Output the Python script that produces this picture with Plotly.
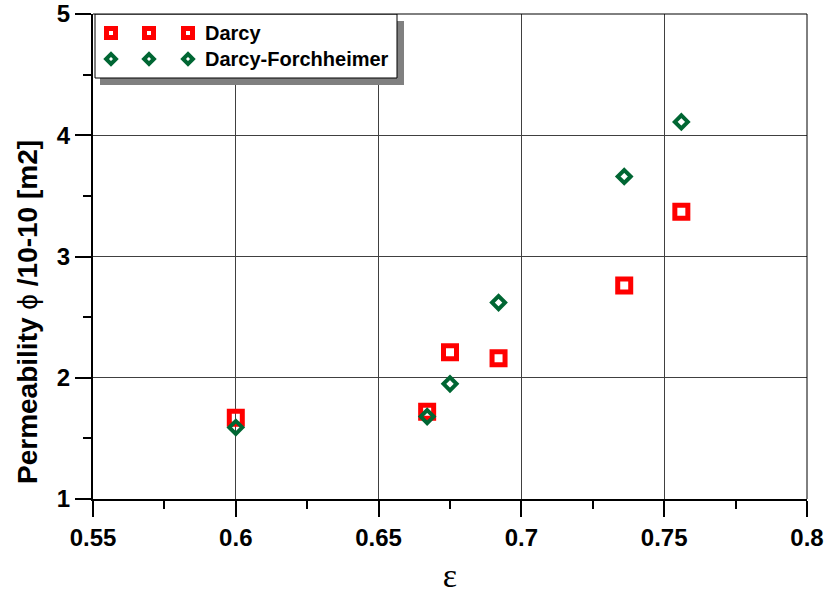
import plotly.graph_objects as go

# Porosity (epsilon) and permeability (units of 1e-10 m^2)
eps_darcy = [0.600, 0.667, 0.675, 0.692, 0.736, 0.756]
perm_darcy = [1.67, 1.72, 2.21, 2.16, 2.76, 3.37]

eps_df = [0.600, 0.667, 0.675, 0.692, 0.736, 0.756]
perm_df = [1.59, 1.68, 1.95, 2.62, 3.66, 4.11]

series_names = ["Darcy", "Darcy-Forchheimer"]
x_ticks = [0.55, 0.6, 0.65, 0.7, 0.75, 0.8]
x_tick_text = ["0.55", "0.6", "0.65", "0.7", "0.75", "0.8"]
y_ticks = [1, 2, 3, 4, 5]

RED = "#ff0000"
GREEN = "#006633"
W, H = 825, 594
L, R, T, B = 93, 18, 14, 95
X0, X1 = 0.55, 0.8
Y0, Y1 = 1, 5


def px_to_data(px, py):
    """Convert a pixel position on the page to main-axis data coordinates."""
    fx = (px - L) / (W - L - R)
    fy = (H - B - py) / (H - B - T)
    return X0 + fx * (X1 - X0), Y0 + fy * (Y1 - Y0)


def px_to_frac(px, py):
    return (px - L) / (W - L - R), (H - B - py) / (H - B - T)


fig = go.Figure()

fig.add_trace(go.Scatter(
    x=eps_darcy, y=perm_darcy, mode="markers", name=series_names[0],
    marker=dict(symbol="square-open", size=13, color=RED, line=dict(width=5, color=RED)),
    showlegend=False,
))
fig.add_trace(go.Scatter(
    x=eps_df, y=perm_df, mode="markers", name=series_names[1],
    marker=dict(symbol="diamond-open", size=10, color=GREEN, line=dict(width=4, color=GREEN)),
    showlegend=False,
))

# Legend box: shadow + white frame, drawn between grid and traces
sx0, sy0 = px_to_data(100, 85)
sx1, sy1 = px_to_data(404, 21)
bx0, by0 = px_to_data(95, 78)
bx1, by1 = px_to_data(397, 14)
shapes = [
    dict(type="rect", xref="x", yref="y", x0=sx0, y0=sy0, x1=sx1, y1=sy1,
         fillcolor="#808080", line=dict(width=0), layer="between"),
    dict(type="rect", xref="x", yref="y", x0=bx0, y0=by0, x1=bx1, y1=by1,
         fillcolor="white", line=dict(color="black", width=1), layer="between"),
    # thin frame on top and right
    dict(type="line", xref="paper", yref="paper", x0=0, x1=1, y0=1, y1=1,
         line=dict(color="black", width=1), layer="above"),
    dict(type="line", xref="paper", yref="paper", x0=1, x1=1, y0=0, y1=1,
         line=dict(color="black", width=1), layer="above"),
]

# Legend glyphs on an overlay axis spanning the plot area
glyph_px = [111, 149, 188]
row_py = [33, 59]
symbols = [("square-open", 9, 5, RED), ("diamond-open", 7.5, 4, GREEN)]
for (sym, size, lw, col), py in zip(symbols, row_py):
    gx = [px_to_frac(p, py)[0] for p in glyph_px]
    gy = [px_to_frac(111, py)[1]] * len(glyph_px)
    fig.add_trace(go.Scatter(
        x=gx, y=gy, xaxis="x2", yaxis="y2", mode="markers", showlegend=False,
        hoverinfo="skip",
        marker=dict(symbol=sym, size=size, color=col, line=dict(width=lw, color=col)),
    ))

annotations = []
for name, py in zip(series_names, row_py):
    fx, fy = px_to_frac(203, py)
    annotations.append(dict(
        x=fx, y=fy, xref="paper", yref="paper", text=name, showarrow=False,
        xanchor="left", yanchor="middle",
        font=dict(family="Liberation Sans, Arial", size=20, color="black", weight="bold"),
    ))

# Y-axis title, placed slightly below the vertical centre of the plot
tx, ty = px_to_frac(27, 312)
annotations.append(dict(
    x=tx, y=ty, xref="paper", yref="paper", textangle=-90, showarrow=False,
    xanchor="center", yanchor="middle",
    text="Permeability <span style='font-weight:normal'>ϕ</span> /10-10 [m2]",
    font=dict(family="Liberation Sans, Arial", size=28, color="black", weight="bold"),
))

tick_font = dict(family="Liberation Sans, Arial", size=24, color="black", weight="bold")

fig.update_layout(
    width=W, height=H,
    margin=dict(l=L, r=R, t=T, b=B),
    plot_bgcolor="white", paper_bgcolor="white",
    shapes=shapes, annotations=annotations,
    xaxis=dict(
        range=[X0, X1], tickvals=x_ticks, ticktext=x_tick_text, automargin=False,
        ticks="outside", ticklen=16, tickwidth=2, tickcolor="black",
        showline=True, linewidth=2, linecolor="black",
        showgrid=True, gridcolor="#404040", gridwidth=1,
        zeroline=False, tickfont=tick_font,
        minor=dict(dtick=0.025, tick0=0.55, ticks="outside", ticklen=8, tickwidth=2,
                   tickcolor="black", showgrid=False),
        title=dict(text="ε", font=dict(family="Liberation Serif, Times New Roman", size=34, color="black"),
                   standoff=14),
    ),
    yaxis=dict(
        range=[Y0, Y1], tickvals=y_ticks, automargin=False,
        ticks="outside", ticklen=16, tickwidth=2, tickcolor="black",
        showline=True, linewidth=2, linecolor="black",
        showgrid=True, gridcolor="#404040", gridwidth=1,
        zeroline=False, tickfont=tick_font,
        minor=dict(dtick=0.5, tick0=1, ticks="outside", ticklen=8, tickwidth=2,
                   tickcolor="black", showgrid=False),
    ),
    xaxis2=dict(range=[0, 1], overlaying="x", anchor="y2", visible=False, fixedrange=True),
    yaxis2=dict(range=[0, 1], overlaying="y", anchor="x2", visible=False, fixedrange=True),
)

fig.write_html("out.html")
